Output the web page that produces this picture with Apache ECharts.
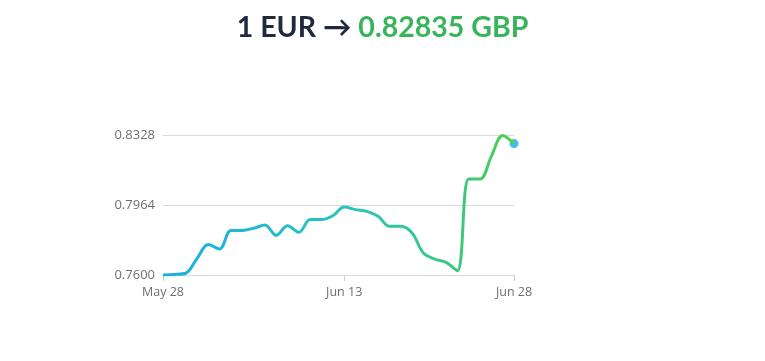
<!DOCTYPE html>
<html>
<head>
<meta charset="utf-8">
<script src="https://cdn.jsdelivr.net/npm/echarts@6/dist/echarts.min.js"></script>
<style>html,body{margin:0;padding:0;background:#fff;}#c{width:765px;height:361px;}</style>
</head>
<body>
<div id="c"></div>
<script>
const dates = ['May 28','May 29','May 30','May 31','Jun 1','Jun 2','Jun 3','Jun 4','Jun 5','Jun 6','Jun 7','Jun 8','Jun 9','Jun 10','Jun 11','Jun 12','Jun 13','Jun 14','Jun 15','Jun 16','Jun 17','Jun 18','Jun 19','Jun 20','Jun 21','Jun 22','Jun 23','Jun 24','Jun 25','Jun 26','Jun 27','Jun 28'];
const rates = [0.7600,0.7603,0.7609,0.7685,0.7758,0.7735,0.7832,0.7832,0.7843,0.7860,0.7806,0.7856,0.7822,0.7888,0.7888,0.7908,0.7954,0.7940,0.7931,0.7905,0.7853,0.7853,0.7818,0.7714,0.7683,0.7666,0.7622,0.8099,0.8099,0.8217,0.8326,0.82835];
const xTickLabels = ['May 28','Jun 13','Jun 28'];
const yTicks = [0.7600, 0.7964, 0.8328];
const titleFrom = '1 EUR \u2192 ';
const titleTo = '0.82835 GBP';

const BASE = yTicks[0];
const STEP = yTicks[1] - yTicks[0];
const shifted = rates.map(v => v - BASE);
const lastIdx = rates.length - 1;

const chart = echarts.init(document.getElementById('c'));
chart.setOption({
  animation: false,
  title: {
    text: '{a|' + titleFrom + '}{b|' + titleTo + '}',
    left: 'center',
    top: 8,
    textStyle: {
      rich: {
        a: {fontSize: 28.5, fontWeight: 700, color: '#1f2b3d', fontFamily: 'Lato'},
        b: {fontSize: 28.5, fontWeight: 700, color: '#37b45c', fontFamily: 'Lato'}
      }
    }
  },
  grid: {left: 163, right: 251, top: 135, bottom: 86},
  xAxis: {
    type: 'category',
    data: dates,
    boundaryGap: false,
    axisLine: {show: false},
    axisTick: {
      show: true, length: 6, lineStyle: {color: '#cccccc'},
      interval: (i, v) => xTickLabels.includes(v)
    },
    axisLabel: {
      color: '#6f6f6f', fontSize: 12.5, margin: 11, fontFamily: 'Open Sans',
      interval: (i, v) => xTickLabels.includes(v)
    },
    splitLine: {show: false}
  },
  yAxis: {
    type: 'value',
    min: 0,
    max: STEP * 2,
    interval: STEP,
    axisLine: {show: false},
    axisTick: {show: false},
    axisLabel: {
      color: '#6f6f6f', fontSize: 13, margin: 8, fontFamily: 'Open Sans',
      formatter: v => (v + BASE).toFixed(4)
    },
    splitLine: {lineStyle: {color: '#d9d9d9', width: 1}}
  },
  series: [
    {
      type: 'line',
      data: shifted,
      smooth: 0.35,
      showSymbol: false,
      lineStyle: {
        width: 3,
        color: new echarts.graphic.LinearGradient(0, 0, 1, 0, [
          {offset: 0, color: '#19aee6'},
          {offset: 0.5, color: '#2bc2bf'},
          {offset: 0.85, color: '#3cc87a'},
          {offset: 1, color: '#55d04c'}
        ])
      }
    },
    {
      type: 'scatter',
      data: [[lastIdx, shifted[lastIdx]]],
      symbolSize: 9,
      itemStyle: {color: '#15aaf2'}
    }
  ]
});
</script>
</body>
</html>
